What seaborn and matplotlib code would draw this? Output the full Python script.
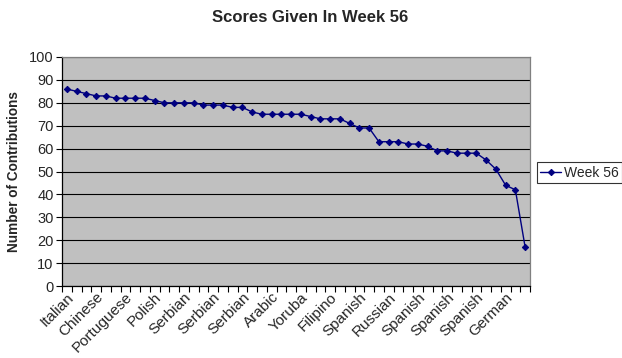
import numpy as np
import pandas as pd
import matplotlib
matplotlib.use("Agg")
import matplotlib.pyplot as plt
import seaborn as sns

# values, 48 points
scores = [86, 85, 84, 83, 83, 82, 82, 82, 82, 81, 80, 80, 80, 80, 79, 79,
          79, 78, 78, 76, 75, 75, 75, 75, 75, 74, 73, 73, 73, 71, 69, 69,
          63, 63, 63, 62, 62, 61, 59, 59, 58, 58, 58, 55, 51, 44, 42, 17]
# only every third category is labelled in the original
tick_labels = ["Italian", "Chinese", "Portuguese", "Polish", "Serbian", "Serbian",
               "Serbian", "Arabic", "Yoruba", "Filipino", "Spanish", "Russian",
               "Spanish", "Spanish", "Spanish", "German"]
label_step = 3
series_name = "Week 56"

df = pd.DataFrame({"idx": np.arange(len(scores)), "score": scores})

sns.set_style("white")
plt.rcParams["font.family"] = ["Liberation Sans", "DejaVu Sans"]

fig = plt.figure(figsize=(6.22, 3.58), dpi=100)
ax = fig.add_axes([62 / 622, 1 - 286 / 358, 468 / 622, 229 / 358])
ax.set_facecolor("#C0C0C0")

sns.lineplot(data=df, x="idx", y="score", ax=ax, color="#000080", lw=1.0,
             marker="D", markersize=3.2, markeredgecolor="#000080",
             label=series_name, legend=False)

n = len(scores)
ax.set_xlim(-0.5, n - 0.5)
ax.set_ylim(0, 100)
ax.set_yticks(range(0, 101, 10))
ax.yaxis.grid(True, color="black", lw=0.8)
ax.set_axisbelow(True)

# category labels every third point, tick marks on category boundaries
ax.set_xticks(np.arange(0, n, label_step))
ax.set_xticklabels(tick_labels, rotation=45, ha="right", rotation_mode="anchor",
                   fontsize=11)
ax.tick_params(axis="x", which="major", length=0, pad=3)
ax.set_xticks(np.arange(-0.5, n, 1), minor=True)
ax.tick_params(axis="x", which="minor", length=4, width=0.8, color="black",
               direction="out", bottom=True)
ax.tick_params(axis="y", length=4, width=0.8, color="black", direction="out",
               left=True, labelsize=10.5, pad=2)

for s in ["left", "bottom"]:
    ax.spines[s].set_color("black")
    ax.spines[s].set_linewidth(0.9)
for s in ["top", "right"]:
    ax.spines[s].set_color("#808080")
    ax.spines[s].set_linewidth(0.9)

ax.set_xlabel("")
ax.set_ylabel("Number of Contributions", fontsize=9.8, fontweight="bold", labelpad=6)
fig.text(310 / 622, 1 - 18 / 358, "Scores Given In Week 56", ha="center", va="center",
         fontsize=12, fontweight="bold")

handles, labels = ax.get_legend_handles_labels()
leg = fig.legend(handles, labels, loc="lower left",
                 bbox_to_anchor=(537 / 622, 1 - 183 / 358), fontsize=10,
                 frameon=True, fancybox=False, handlelength=1.5,
                 borderpad=0.25, handletextpad=0.2, borderaxespad=0)
leg.get_frame().set_edgecolor("black")
leg.get_frame().set_linewidth(0.8)

plt.savefig("out.png", dpi=100)
